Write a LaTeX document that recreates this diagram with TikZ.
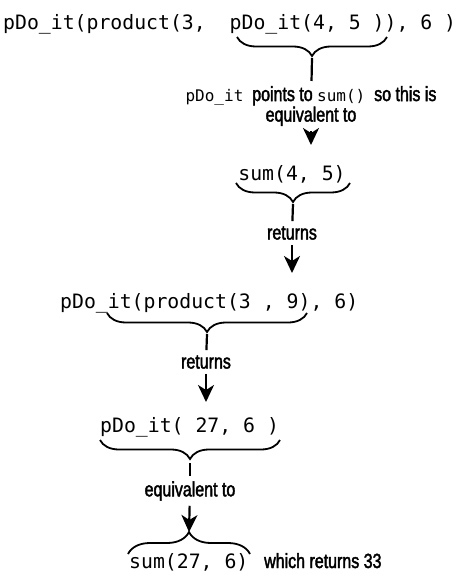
\documentclass[tikz,border=0pt]{standalone}
\usepackage{fontspec}
\setmainfont{Liberation Sans}[FakeStretch=0.78,FakeBold=2]
\setmonofont{DejaVu Sans Mono}
\usetikzlibrary{arrows.meta,decorations.pathreplacing}

\newcommand{\code}[1]{{\fontsize{16}{18}\ttfamily #1}}

\tikzset{
    expr/.style={font=\fontsize{19.8}{22}\ttfamily, inner sep=0pt},
    note/.style={font=\fontsize{20.5}{20.5}\selectfont, align=center, inner sep=5pt},
    brace/.style={decorate, decoration={brace, mirror, amplitude=19pt}, line width=1.8pt},
    braceup/.style={decorate, decoration={brace, amplitude=22pt}, line width=1.8pt},
    link/.style={line width=2.2pt},
    flow/.style={line width=2.2pt, -{Stealth[length=17pt, width=16pt, inset=5pt]}}
}

\begin{document}
\begin{tikzpicture}[x=1pt, y=-1pt]
    % Cadre
    \useasboundingbox (0,0) rectangle (462,580);

    % Expressions
    \node[expr, anchor=base west] (call1) at (3,30) {pDo\_it(product(3,~~pDo\_it(4,~5~)),~6~)};
    \node[expr, anchor=base] (sum1) at (292,180) {sum(4,~5)};
    \node[expr, anchor=base west] (call2) at (60,308) {pDo\_it(product(3~,~9),~6)};
    \node[expr, anchor=base west] (call3) at (100,432) {pDo\_it(~27,~6~)};
    \node[expr, anchor=base west] (sum2) at (129,568) {sum(27,~6)};

    % Textes
    \node[note] (note1) at (311,106) {\code{pDo\_it}~ points to \code{sum()}~ so this is\\equivalent to};
    \node[note] (ret1) at (292,233) {returns};
    \node[note] (ret2) at (206,362) {returns};
    \node[note] (equiv) at (190,491) {equivalent to};
    \node[note, anchor=base west, inner sep=0pt] (result) at (264,568) {which returns 33};

    % Accolades
    \coordinate (b1l) at (237,37);  \coordinate (b1r) at (387,37);  \coordinate (b1t) at (312,58);
    \coordinate (b2l) at (236,183); \coordinate (b2r) at (350,183); \coordinate (b2t) at (293,204);
    \coordinate (b3l) at (107,313); \coordinate (b3r) at (307,313); \coordinate (b3t) at (207,334);
    \coordinate (b4l) at (100,440); \coordinate (b4r) at (280,440); \coordinate (b4t) at (190,463);
    \coordinate (b5l) at (128,554); \coordinate (b5r) at (250,554); \coordinate (b5t) at (189,532);
    \foreach \i in {1,2,3,4}
        \draw[brace] (b\i l) -- (b\i r);
    \draw[braceup] (b5l) -- (b5r);

    % Traits
    \draw[link] (b1t) -- (note1);
    \draw[link] (b2t) -- (ret1);
    \draw[link] (b3t) -- (ret2);
    \draw[link] (b4t) -- (equiv);

    % Flèches
    \coordinate (a1) at (311,145);
    \coordinate (a2) at (292,273);
    \coordinate (a3) at (206,402);
    \draw[flow] (note1) -- (a1);
    \draw[flow] (ret1) -- (a2);
    \draw[flow] (ret2) -- (a3);
    \draw[flow] (equiv) -- (b5t);
\end{tikzpicture}
\end{document}
